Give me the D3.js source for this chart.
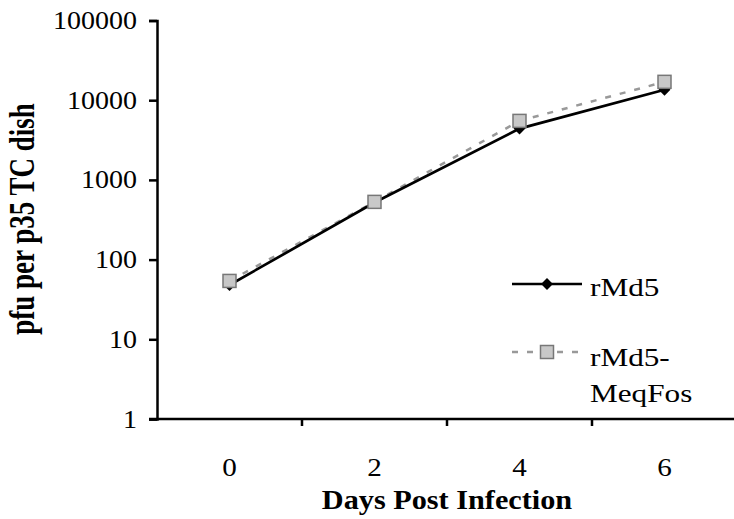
<!DOCTYPE html>
<html>
<head>
<meta charset="utf-8">
<script src="https://cdn.jsdelivr.net/npm/d3@7"></script>
<style>
  body { margin: 0; background: #fff; }
  text { font-family: "Liberation Serif", "DejaVu Serif", serif; fill: #000; }
</style>
</head>
<body>
<div id="chart"></div>
<script>
// chart data
var days = ["0", "2", "4", "6"];
var rMd5 = [48, 520, 4400, 13500];
var rMd5MeqFos = [54, 530, 5500, 17000];
var yTicks = [1, 10, 100, 1000, 10000, 100000];

var svgWidth = 734;
var svgHeight = 519;

var svg = d3.select("#chart")
  .append("svg")
  .attr("width", svgWidth)
  .attr("height", svgHeight);

// plot region (pixels)
var plotLeft = 157, plotRight = 737, plotTop = 20.5, plotBottom = 419;

// the original figure is a bit wider than Times, stretch text sideways
function widen(sel, k) {
  sel.each(function() {
    var len = this.getComputedTextLength();
    d3.select(this)
      .attr("textLength", len * k)
      .attr("lengthAdjust", "spacingAndGlyphs");
  });
}

var xScale = d3.scaleBand()
  .domain(days)
  .range([plotLeft, plotRight]);

var yScale = d3.scaleLog()
  .domain([1, 100000])
  .range([plotBottom, plotTop]);

var cx = d => xScale(d) + xScale.bandwidth() / 2;

// y axis
var yAxis = svg.append("g")
  .attr("transform", `translate(${plotLeft}, 0)`)
  .call(d3.axisLeft(yScale).tickValues(yTicks).tickFormat(d3.format("d")).tickSize(8).tickPadding(12));
yAxis.select(".domain").attr("stroke", "#000").attr("stroke-width", 2.5);
yAxis.selectAll(".tick line").attr("stroke", "#000").attr("stroke-width", 2.5);
yAxis.selectAll(".tick text")
  .attr("font-size", "25px")
  .attr("font-family", "Liberation Serif, serif")
  .attr("fill", "#000")
  .call(widen, 1.12);

// x axis: labels centred in bands, ticks on band edges
var xAxis = svg.append("g")
  .attr("transform", `translate(0, ${plotBottom})`)
  .call(d3.axisBottom(xScale).tickSize(0));
xAxis.select(".domain").remove();
xAxis.selectAll(".tick text")
  .attr("y", 57)
  .attr("dy", null)
  .attr("font-size", "26px")
  .attr("font-family", "Liberation Serif, serif")
  .attr("fill", "#000")
  .call(widen, 1.12);

svg.append("line")
  .attr("x1", plotLeft - 8).attr("x2", plotRight)
  .attr("y1", plotBottom).attr("y2", plotBottom)
  .attr("stroke", "#000").attr("stroke-width", 2.5);

svg.selectAll(".xedge")
  .data(days)
  .enter()
  .append("line")
  .attr("x1", (d, i) => plotLeft + xScale.step() * (i + 1))
  .attr("x2", (d, i) => plotLeft + xScale.step() * (i + 1))
  .attr("y1", plotBottom).attr("y2", plotBottom + 7)
  .attr("stroke", "#000").attr("stroke-width", 2.5);

// axis titles
svg.append("text")
  .attr("transform", "translate(34, 219) rotate(-90) scale(1, 1.3)")
  .attr("text-anchor", "middle")
  .attr("font-size", "27px")
  .attr("font-weight", "bold")
  .text("pfu per p35 TC dish");

svg.append("text")
  .attr("x", 447)
  .attr("y", 509)
  .attr("text-anchor", "middle")
  .attr("font-size", "27px")
  .attr("font-weight", "bold")
  .text("Days Post Infection")
  .call(widen, 1.12);

var line = d3.line()
  .x((d, i) => cx(days[i]))
  .y(d => yScale(d));

// rMd5-MeqFos - dashed grey line
svg.append("path")
  .datum(rMd5MeqFos)
  .attr("d", line)
  .attr("fill", "none")
  .attr("stroke", "#999")
  .attr("stroke-width", 2.5)
  .attr("stroke-dasharray", "6,9");

// rMd5 - solid black with diamonds
svg.append("path")
  .datum(rMd5)
  .attr("d", line)
  .attr("fill", "none")
  .attr("stroke", "#000")
  .attr("stroke-width", 2.7);

svg.selectAll(".diamond")
  .data(rMd5)
  .enter()
  .append("path")
  .attr("d", d3.symbol().type(d3.symbolDiamond2).size(90))
  .attr("transform", (d, i) => `translate(${cx(days[i])}, ${yScale(d)})`)
  .attr("fill", "#000");

svg.selectAll(".square")
  .data(rMd5MeqFos)
  .enter()
  .append("rect")
  .attr("x", (d, i) => cx(days[i]) - 6.5)
  .attr("y", d => yScale(d) - 6.5)
  .attr("width", 13)
  .attr("height", 13)
  .attr("fill", "#c8c8c8")
  .attr("stroke", "#777")
  .attr("stroke-width", 1.5);

// legend
var legend = svg.append("g");
legend.append("line")
  .attr("x1", 512).attr("x2", 582).attr("y1", 284).attr("y2", 284)
  .attr("stroke", "#000").attr("stroke-width", 2.7);
legend.append("path")
  .attr("d", d3.symbol().type(d3.symbolDiamond2).size(90))
  .attr("transform", "translate(547, 284)")
  .attr("fill", "#000");
legend.append("text")
  .attr("x", 590).attr("y", 296)
  .attr("font-size", "26px")
  .text("rMd5")
  .call(widen, 1.2);

legend.append("line")
  .attr("x1", 512).attr("x2", 584).attr("y1", 352).attr("y2", 352)
  .attr("stroke", "#999").attr("stroke-width", 2.5)
  .attr("stroke-dasharray", "6,9");
legend.append("rect")
  .attr("x", 540.5).attr("y", 345.5).attr("width", 13).attr("height", 13)
  .attr("fill", "#c8c8c8").attr("stroke", "#777").attr("stroke-width", 1.5);
legend.append("text")
  .attr("x", 590).attr("y", 366)
  .attr("font-size", "26px")
  .text("rMd5-")
  .call(widen, 1.2);
legend.append("text")
  .attr("x", 590).attr("y", 402)
  .attr("font-size", "26px")
  .text("MeqFos")
  .call(widen, 1.2);
</script>
</body>
</html>
